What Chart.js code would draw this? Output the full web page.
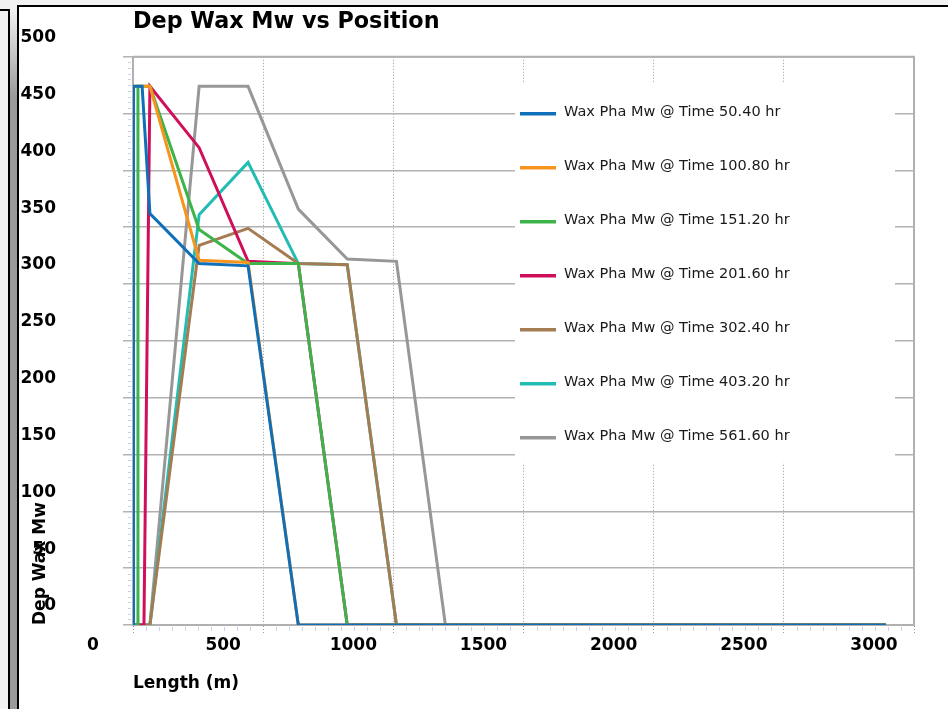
<!DOCTYPE html>
<html>
<head>
<meta charset="utf-8">
<script src="https://cdn.jsdelivr.net/npm/chart.js@4.4.1/dist/chart.umd.min.js"></script>
<style>
  html, body { margin: 0; padding: 0; background: #f2f2f2; }
  #page { position: absolute; left: 0; top: 0; width: 948px; height: 709px; overflow: hidden; background: #f2f2f2; }
  #edge { position: absolute; left: -2px; top: 9px; width: 10px; height: 720px; border-top: 2px solid #000; border-right: 2px solid #000; background: #f2f2f2; }
  #strip { position: absolute; left: 10px; top: 11px; width: 7px; height: 720px; background: linear-gradient(#f0f0f0, #9a9a9a 12%, #9a9a9a); }
  #panel { position: absolute; left: 17px; top: 5px; width: 940px; height: 720px; background: #fff; border-left: 2px solid #000; border-top: 2px solid #000; }
  canvas { position: absolute; left: 0; top: 0; }
</style>
</head>
<body>
<div id="page">
  <div id="edge"></div>
  <div id="strip"></div>
  <div id="panel"></div>
  <canvas id="mwChart" width="948" height="709"></canvas>
</div>
<script>
// pipeline node positions (m)
const positions = [0, 2, 17, 19, 35, 42, 65, 254, 442, 635, 823, 1012, 1200, 2892];

// wax phase molecular weight at each node, one array per time
const mw_50_40  = [0, 474, 474, 474, 474, 448, 362, 318, 316, 0, 0, 0, 0, 0];
const mw_100_80 = [0, 474, 474, 474, 474, 474, 474, 321, 319, 0, 0, 0, 0, 0];
const mw_151_20 = [0, 0, 0, 474, 474, 474, 474, 348, 318, 318, 0, 0, 0, 0];
const mw_201_60 = [0, 0, 0, 0, 0, 0, 474, 420, 320, 318, 0, 0, 0, 0];
const mw_302_40 = [0, 0, 0, 0, 0, 0, 0, 334, 349, 318, 317, 0, 0, 0];
const mw_403_20 = [0, 0, 0, 0, 0, 0, 0, 361, 407, 318, 317, 0, 0, 0];
const mw_561_60 = [0, 0, 0, 0, 0, 0, 0, 474, 474, 366, 322, 320, 0, 0];

const seriesLabels = [
  'Wax Pha Mw @ Time 50.40 hr',
  'Wax Pha Mw @ Time 100.80 hr',
  'Wax Pha Mw @ Time 151.20 hr',
  'Wax Pha Mw @ Time 201.60 hr',
  'Wax Pha Mw @ Time 302.40 hr',
  'Wax Pha Mw @ Time 403.20 hr',
  'Wax Pha Mw @ Time 561.60 hr'
];
const seriesValues = [mw_50_40, mw_100_80, mw_151_20, mw_201_60, mw_302_40, mw_403_20, mw_561_60];
const seriesColors = ['#0f6fb8', '#f7941d', '#3cb44a', '#cf0f5a', '#a57c52', '#21bdb3', '#979797'];

const datasets = seriesValues.map((vals, i) => ({
  label: seriesLabels[i],
  data: vals.map((v, k) => ({ x: positions[k], y: v })),
  borderColor: seriesColors[i],
  backgroundColor: seriesColors[i],
  borderWidth: 3,
  pointRadius: 0,
  tension: 0,
  fill: false
}));

// put the chart title over the left edge of the plot
const titleAtPlot = {
  id: 'titleAtPlot',
  afterLayout(chart) {
    if (chart.titleBlock) chart.titleBlock.left = chart.chartArea.left;
  }
};

// legend drawn inside the plot on a white box
const innerLegend = {
  id: 'innerLegend',
  beforeDatasetsDraw(chart) {
    const { ctx, chartArea: a } = chart;
    ctx.save();
    ctx.fillStyle = '#fff';
    ctx.fillRect(a.left + 382, a.top + 26, 380, 380);
    ctx.font = '14.5px "DejaVu Sans"';
    ctx.textBaseline = 'alphabetic';
    ctx.textAlign = 'left';
    chart.data.datasets.forEach((ds, i) => {
      const yy = a.top + 57 + 54 * i;
      ctx.strokeStyle = ds.borderColor;
      ctx.lineWidth = 3.5;
      ctx.beginPath();
      ctx.moveTo(a.left + 387, yy);
      ctx.lineTo(a.left + 423, yy);
      ctx.stroke();
      ctx.fillStyle = '#1a1a1a';
      ctx.fillText(ds.label, a.left + 431, yy + 2.5);
    });
    ctx.restore();
  }
};

// small minor ticks along both axes plus the top/right plot frame
const axisExtras = {
  id: 'axisExtras',
  afterDraw(chart) {
    const { ctx, chartArea: a, scales: { x, y } } = chart;
    ctx.save();
    ctx.strokeStyle = '#c6d3ea';
    ctx.lineWidth = 1;
    ctx.beginPath();
    for (let v = 0; v <= 500; v += 5) {
      if (v % 50 === 0) continue;
      const py = Math.round(y.getPixelForValue(v)) + 0.5;
      ctx.moveTo(a.left - 5, py);
      ctx.lineTo(a.left - 2, py);
    }
    for (let v = 50; v < 3000; v += 50) {
      if (v % 500 === 0) continue;
      const px = Math.round(x.getPixelForValue(v)) + 0.5;
      ctx.moveTo(px, a.bottom + 2);
      ctx.lineTo(px, a.bottom + 6);
    }
    ctx.stroke();
    ctx.strokeStyle = '#b0b0b0';
    ctx.lineWidth = 2;
    ctx.beginPath();
    ctx.moveTo(a.left, a.top);
    ctx.lineTo(a.right, a.top);
    ctx.lineTo(a.right, a.bottom);
    ctx.stroke();
    ctx.restore();
  }
};

const boldFont = { family: '"DejaVu Sans"', size: 17, weight: 'bold' };

new Chart(document.getElementById('mwChart').getContext('2d'), {
  type: 'line',
  data: { datasets },
  plugins: [titleAtPlot, innerLegend, axisExtras],
  options: {
    responsive: false,
    animation: false,
    devicePixelRatio: 1,
    layout: { padding: { left: 20, right: 34, top: 0, bottom: 10 } },
    plugins: {
      legend: { display: false },
      tooltip: { enabled: false },
      title: {
        display: true,
        text: 'Dep Wax Mw vs Position',
        align: 'start',
        color: '#000',
        font: { family: '"DejaVu Sans"', size: 22.3, weight: 'bold' },
        padding: { top: 9, bottom: 21 }
      }
    },
    scales: {
      x: {
        type: 'linear',
        min: 0,
        max: 3000,
        afterFit(scale) {
          scale.height = 74;
          scale.paddingLeft = 0;
          scale.paddingRight = 0;
        },
        ticks: {
          stepSize: 500,
          autoSkip: false,
          maxRotation: 0,
          padding: 0,
          labelOffset: -40,
          color: '#000',
          font: boldFont,
          callback: (v) => String(v)
        },
        grid: {
          color: '#999999',
          lineWidth: 1,
          tickLength: 10,
          tickBorderDash: [1, 2]
        },
        border: { display: true, color: '#b0b0b0', width: 2, dash: [1, 2] },
        title: {
          display: true,
          text: 'Length (m)',
          align: 'start',
          color: '#000',
          font: boldFont,
          padding: { top: 0, bottom: 5 }
        }
      },
      y: {
        min: 0,
        max: 500,
        afterFit(scale) {
          scale.width = 113;
          scale.paddingTop = 0;
          scale.paddingBottom = 0;
        },
        ticks: {
          stepSize: 50,
          padding: 67,
          labelOffset: -19,
          color: '#000',
          font: boldFont,
          callback: (v) => String(v)
        },
        grid: {
          color: '#b2b2b2',
          lineWidth: 1.5,
          tickLength: 10
        },
        border: { display: true, color: '#b0b0b0', width: 2 },
        title: {
          display: true,
          text: 'Dep Wax Mw',
          align: 'start',
          color: '#000',
          font: boldFont,
          padding: { top: 10, bottom: 0 }
        }
      }
    }
  }
});
</script>
</body>
</html>
